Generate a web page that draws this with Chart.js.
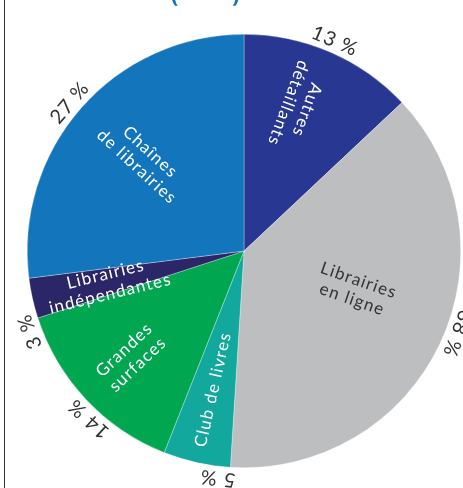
<!DOCTYPE html>
<html>
<head>
<meta charset="utf-8">
<script src="https://cdn.jsdelivr.net/npm/chart.js@4"></script>
<style>
  body { margin: 0; background: #fff; }
  #wrap { position: relative; width: 463px; height: 488px; overflow: hidden; }
  #rule { position: absolute; left: 4px; top: 0; width: 1px; height: 488px; background: #333; }
  canvas { position: absolute; left: 0; top: 0; }
</style>
</head>
<body>
<div id="wrap">
  <canvas id="myPie" width="463" height="488"></canvas>
  <div id="rule"></div>
</div>
<script>
// parts of sales, clockwise from the top
var categories = ["Autres détaillants", "Librairies en ligne", "Club de livres",
  "Grandes surfaces", "Librairies indépendantes", "Chaînes de librairies"];
var shares = [13, 38, 5, 14, 3, 27];
var sliceLines = [["Autres", "détaillants"], ["Librairies", "en ligne"], ["Club de livres"],
  ["Grandes", "surfaces"], ["Librairies", "indépendantes"], ["Chaînes", "de librairies"]];
var colors = ["#283892", "#bcbec0", "#13a89e", "#00a650", "#2b2667", "#1376bc"];

// where the text inside each slice goes (radius, angle shift in deg, reading inward or not)
var inside = [
  { r: 154, shift: -3, inward: true, color: "#fff" },
  { r: 118, shift: -6, inward: false, color: "#333" },
  { r: 142, shift: 0, inward: true, color: "#fff" },
  { r: 155, shift: 0, inward: true, color: "#fff" },
  { r: 140, shift: -1, inward: true, color: "#fff" },
  { r: 136, shift: 1, inward: true, color: "#fff" },
];
// angle shift (deg) of the percentage outside each slice
var pctShift = [0, -4, -6, -4, -8, -1];

var labelPlugin = {
  id: "sliceText",
  afterDatasetsDraw: function (chart) {
    var ctx = chart.ctx;
    var arcs = chart.getDatasetMeta(0).data;
    ctx.save();
    ctx.textAlign = "center";
    ctx.textBaseline = "middle";
    arcs.forEach(function (arc, i) {
      var mid = (arc.startAngle + arc.endAngle) / 2;
      // text in the slice
      var s = inside[i];
      var a = mid + s.shift * Math.PI / 180;
      ctx.save();
      ctx.translate(arc.x + s.r * Math.cos(a), arc.y + s.r * Math.sin(a));
      ctx.rotate(s.inward ? a + Math.PI : a);
      ctx.fillStyle = s.color;
      ctx.font = "17px Lato";
      ctx.letterSpacing = "1.2px";
      var lines = sliceLines[i];
      for (var k = 0; k < lines.length; k++) {
        ctx.fillText(lines[k], 0, (k - (lines.length - 1) / 2) * 20);
      }
      ctx.restore();
      // percentage outside
      var r = arc.outerRadius + 12;
      var p = mid + pctShift[i] * Math.PI / 180;
      ctx.save();
      ctx.translate(arc.x + r * Math.cos(p), arc.y + r * Math.sin(p));
      ctx.rotate(p + Math.PI / 2);
      ctx.fillStyle = "#333";
      ctx.font = "20px Lato";
      ctx.letterSpacing = "1px";
      ctx.fillText(shares[i] + " %", 0, 0);
      ctx.restore();
    });
    // title, cut at the top of the picture
    ctx.fillStyle = "#1376bc";
    ctx.font = "bold 22px 'Noto Sans'";
    ctx.textAlign = "left";
    ctx.textBaseline = "alphabetic";
    ctx.fillText("(", 171, 2);
    ctx.fillText(")", 232, 2);
    ctx.restore();
  },
};

var ctx = document.getElementById("myPie").getContext("2d");
var myChart = new Chart(ctx, {
  type: "pie",
  data: {
    labels: categories,
    datasets: [
      {
        data: shares,
        backgroundColor: colors,
        borderColor: "rgba(255,255,255,0.6)",
        borderWidth: 0.5,
      },
    ],
  },
  options: {
    responsive: false,
    animation: false,
    layout: { padding: { left: 27, right: 2, top: 34, bottom: 20 } },
    plugins: {
      legend: { display: false },
      tooltip: { enabled: false },
    },
  },
  plugins: [labelPlugin],
});
</script>
</body>
</html>
